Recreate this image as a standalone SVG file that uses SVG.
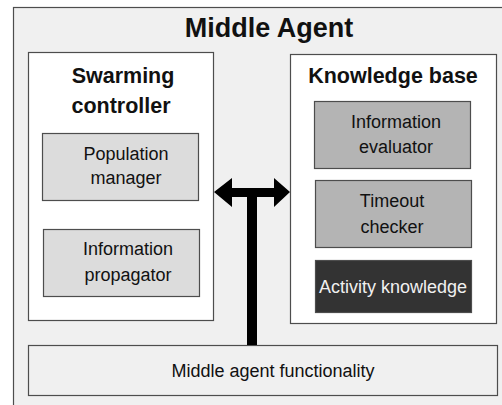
<svg xmlns="http://www.w3.org/2000/svg" width="502" height="405" viewBox="0 0 502 405">
<style>
.box{stroke:#4d4d4d;stroke-width:1.2}
.t{font-family:"Liberation Sans",Arial,sans-serif;text-anchor:middle;fill:#111;font-size:18px}
.b{font-weight:bold;font-size:21.5px}
</style>
<rect x="0" y="0" width="502" height="405" fill="#ffffff"/>
<g id="middle-agent">
<rect class="box" x="13.5" y="7.5" width="500" height="410" fill="#f0f0f0"/>
<text class="t" x="269" y="37" style="font-size:27px;font-weight:bold">Middle Agent</text>
</g>
<g id="swarming-controller">
<rect class="box" x="28.5" y="52.5" width="185" height="268" fill="#ffffff"/>
<text class="t b" x="123" y="83">Swarming</text>
<text class="t b" x="121" y="113">controller</text>
</g>
<g id="population-manager">
<rect class="box" x="42.5" y="133.5" width="156" height="67" fill="#dcdcdc"/>
<text class="t" x="126" y="160">Population</text>
<text class="t" x="126" y="184">manager</text>
</g>
<g id="information-propagator">
<rect class="box" x="43.5" y="229.5" width="156" height="67" fill="#dcdcdc"/>
<text class="t" x="128" y="255">Information</text>
<text class="t" x="128" y="281">propagator</text>
</g>
<g id="knowledge-base">
<rect class="box" x="290.5" y="54.5" width="206" height="269" fill="#ffffff"/>
<text class="t b" x="393" y="83">Knowledge base</text>
</g>
<g id="information-evaluator">
<rect class="box" x="314.5" y="101.5" width="156" height="67" fill="#b4b4b4"/>
<text class="t" x="396" y="128">Information</text>
<text class="t" x="396" y="153">evaluator</text>
</g>
<g id="timeout-checker">
<rect class="box" x="315.5" y="180.5" width="156" height="67" fill="#b4b4b4"/>
<text class="t" x="392" y="207">Timeout</text>
<text class="t" x="392" y="233">checker</text>
</g>
<g id="activity-knowledge">
<rect class="box" x="315.5" y="260.5" width="156" height="52" fill="#333333"/>
<text class="t" x="393" y="293" style="fill:#f0f0f0">Activity knowledge</text>
</g>
<g id="middle-agent-functionality">
<rect class="box" x="28.5" y="345.5" width="469" height="50" fill="#f0f0f0"/>
<text class="t" x="273" y="377">Middle agent functionality</text>
</g>
<g id="connectors" fill="#000000">
<rect x="247" y="188" width="10" height="157"/>
<polygon points="214,192 232,178 232,188 274,188 274,178 290,192 274,207 274,197 232,197 232,207"/>
</g>
</svg>
